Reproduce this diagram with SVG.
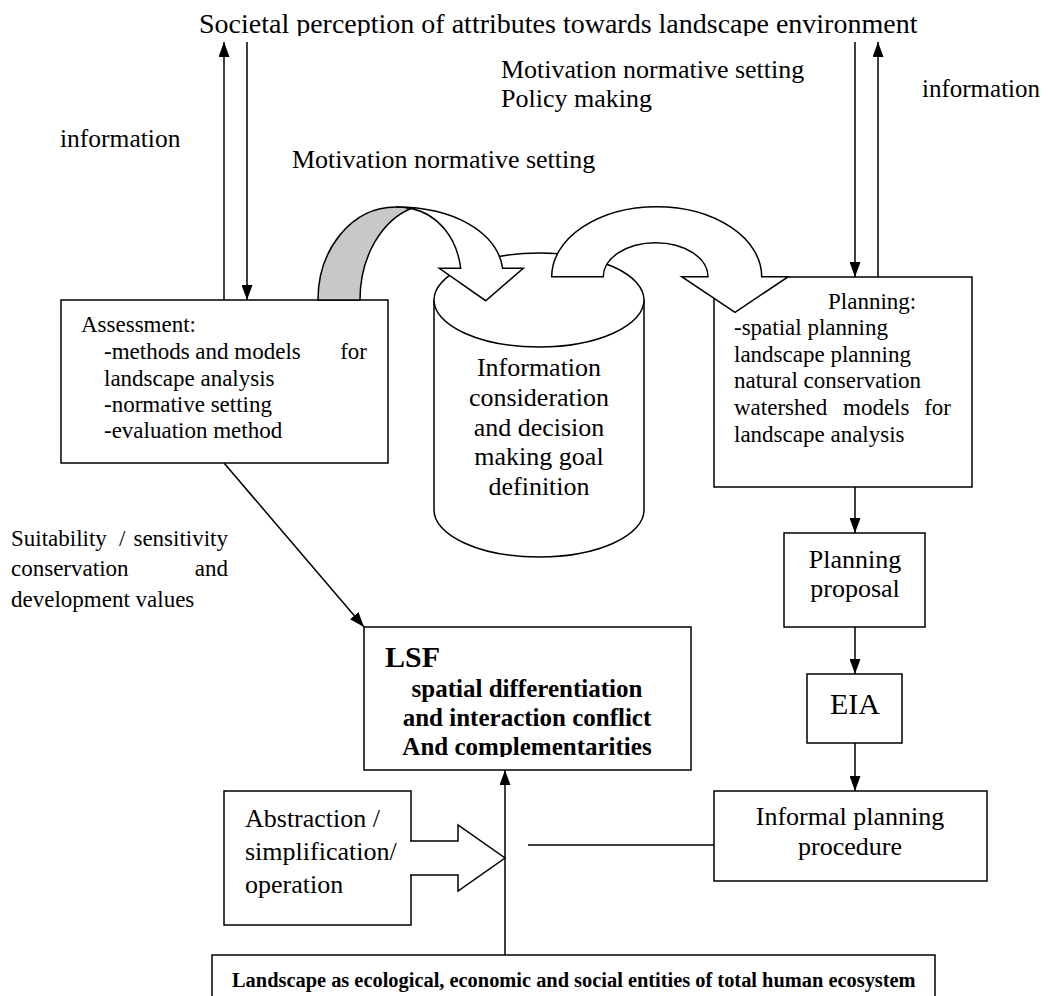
<svg xmlns="http://www.w3.org/2000/svg" width="1048" height="996" viewBox="0 0 1048 996">
<style>
text{font-family:"Liberation Serif","Times New Roman",serif;fill:#000}
.t26{font-size:26px}
.t23{font-size:23px}
.b{font-weight:bold}
.box{fill:#fff;stroke:#000;stroke-width:1.5}
.ln{stroke:#000;stroke-width:1.5;fill:none}
.shape{fill:#fff;stroke:#000;stroke-width:1.5;stroke-linejoin:miter}
</style>
<defs>
<marker id="ah" viewBox="0 0 15 11" refX="15" refY="5.5" markerWidth="15" markerHeight="11" markerUnits="userSpaceOnUse" orient="auto"><path d="M0,0 L15,5.5 L0,11 Z" fill="#000"/></marker>
<clipPath id="clipTitle"><rect x="0" y="0" width="1048" height="36"/></clipPath>
<clipPath id="clipMot"><rect x="0" y="140" width="1048" height="33"/></clipPath>
<clipPath id="clipLsf"><rect x="360" y="620" width="340" height="137"/></clipPath>
</defs>
<rect width="1048" height="996" fill="#fff"/>

<!-- free labels -->
<g id="labels">
<text x="199" y="33" clip-path="url(#clipTitle)" style="font-size:28px">Societal perception of attributes towards landscape environment</text>
<text class="t26" x="501" y="78">Motivation normative setting</text>
<text class="t26" x="501" y="107">Policy making</text>
<text x="922" y="97" style="font-size:25px">information</text>
<text x="60" y="147" style="font-size:25.5px">information</text>
<text class="t26" x="292" y="168" clip-path="url(#clipMot)">Motivation normative setting</text>
<text class="t23" x="11" y="546">Suitability</text>
<text class="t23" x="119" y="546">/</text>
<text class="t23" x="228" y="546" text-anchor="end">sensitivity</text>
<text class="t23" x="11" y="576">conservation</text>
<text class="t23" x="228" y="576" text-anchor="end">and</text>
<text class="t23" x="11" y="607">development values</text>
</g>

<!-- nodes -->
<g id="assessment">
<rect class="box" x="61" y="300" width="327" height="163"/>
<text class="t23" x="81" y="332">Assessment:</text>
<text class="t23" x="104" y="359">-methods and models</text>
<text class="t23" x="367" y="359" text-anchor="end">for</text>
<text class="t23" x="104" y="386">landscape analysis</text>
<text class="t23" x="104" y="412">-normative setting</text>
<text class="t23" x="104" y="438">-evaluation method</text>
</g>

<g id="decision">
<path class="shape" d="M434,300 L434,510 A105,47 0 0 0 644,510 L644,300 Z"/>
<ellipse class="shape" cx="539" cy="300" rx="105" ry="47"/>
<text class="t26" text-anchor="middle" x="539" y="376">Information</text>
<text class="t26" text-anchor="middle" x="539" y="406">consideration</text>
<text class="t26" text-anchor="middle" x="539" y="436">and decision</text>
<text class="t26" text-anchor="middle" x="539" y="465">making goal</text>
<text class="t26" text-anchor="middle" x="539" y="495">definition</text>
</g>

<g id="planning">
<rect class="box" x="714" y="277" width="258" height="210"/>
<text class="t23" x="828" y="309">Planning:</text>
<text class="t23" x="734" y="335">-spatial planning</text>
<text class="t23" x="734" y="362">landscape planning</text>
<text class="t23" x="734" y="388">natural conservation</text>
<text class="t23" x="734" y="415">watershed</text>
<text class="t23" x="843" y="415">models</text>
<text class="t23" x="951" y="415" text-anchor="end">for</text>
<text class="t23" x="734" y="442">landscape analysis</text>
</g>

<g id="arrow-motivation">
<path d="M318,300 C318,250 351,207 396,207 C402,207 407,207.5 411,208.5 C383,220 360,255 360,300 Z" fill="#c8c8c8" stroke="#000" stroke-width="1.5"/>
<path class="shape" d="M396,207 C454,207 497,232 502.7,268.3 L523.3,268.3 L485.7,300.7 L439.3,268.3 L460.7,268.3 C457,238 438,214 411,208.5 C407,207.5 402,207 396,207 Z"/>
</g>

<g id="arrow-policy">
<path class="shape" d="M551.7,276.7 A105,70 0 0 1 761.7,276.7 L788.3,276.7 L735,312.3 L681.7,276.7 L708,276.7 A52.35,34 0 0 0 603.3,276.7 Z"/>
</g>

<g id="proposal">
<rect class="box" x="784" y="533" width="141" height="94"/>
<text class="t26" text-anchor="middle" x="855" y="568">Planning</text>
<text class="t26" text-anchor="middle" x="855" y="597">proposal</text>
</g>

<g id="eia">
<rect class="box" x="807" y="674" width="95" height="69"/>
<text text-anchor="middle" x="855" y="714" style="font-size:30px">EIA</text>
</g>

<g id="lsf">
<rect class="box" x="364" y="627" width="327" height="143"/>
<text class="b" x="385" y="667" style="font-size:30px">LSF</text>
<g clip-path="url(#clipLsf)">
<text class="b" text-anchor="middle" x="527" y="697" style="font-size:25px">spatial differentiation</text>
<text class="b" text-anchor="middle" x="527" y="726" style="font-size:25px">and interaction conflict</text>
<text class="b" text-anchor="middle" x="527" y="755" style="font-size:25px">And complementarities</text>
</g>
</g>

<g id="informal">
<rect class="box" x="714" y="791" width="273" height="90"/>
<text class="t26" text-anchor="middle" x="850" y="825">Informal planning</text>
<text class="t26" text-anchor="middle" x="850" y="855">procedure</text>
</g>

<g id="abstraction">
<rect class="box" x="224" y="791" width="187" height="134"/>
<path class="shape" d="M410,841 L458,841 L458,825 L505,858 L458,891 L458,875 L410,875"/>
<text class="t26" x="245" y="827">Abstraction /</text>
<text class="t26" x="245" y="860">simplification/</text>
<text class="t26" x="245" y="893">operation</text>
</g>

<g id="landscape">
<path class="ln" d="M212,1000 L212,955 L935,955 L935,1000"/>
<text class="b" x="232" y="987" style="font-size:20.4px">Landscape as ecological, economic and social entities of total human ecosystem</text>
</g>

<!-- connectors -->
<g id="connectors" class="ln">
<line x1="224" y1="300" x2="224" y2="42" marker-end="url(#ah)"/>
<line x1="247" y1="42" x2="247" y2="300" marker-end="url(#ah)"/>
<line x1="855" y1="42" x2="855" y2="277" marker-end="url(#ah)"/>
<line x1="878" y1="277" x2="878" y2="42" marker-end="url(#ah)"/>
<line x1="224" y1="463" x2="364" y2="627" marker-end="url(#ah)"/>
<line x1="855" y1="487" x2="855" y2="533" marker-end="url(#ah)"/>
<line x1="855" y1="627" x2="855" y2="674" marker-end="url(#ah)"/>
<line x1="855" y1="743" x2="855" y2="791" marker-end="url(#ah)"/>
<line x1="505" y1="955" x2="505" y2="770" marker-end="url(#ah)"/>
<line x1="528" y1="845" x2="714" y2="845"/>
</g>
</svg>
